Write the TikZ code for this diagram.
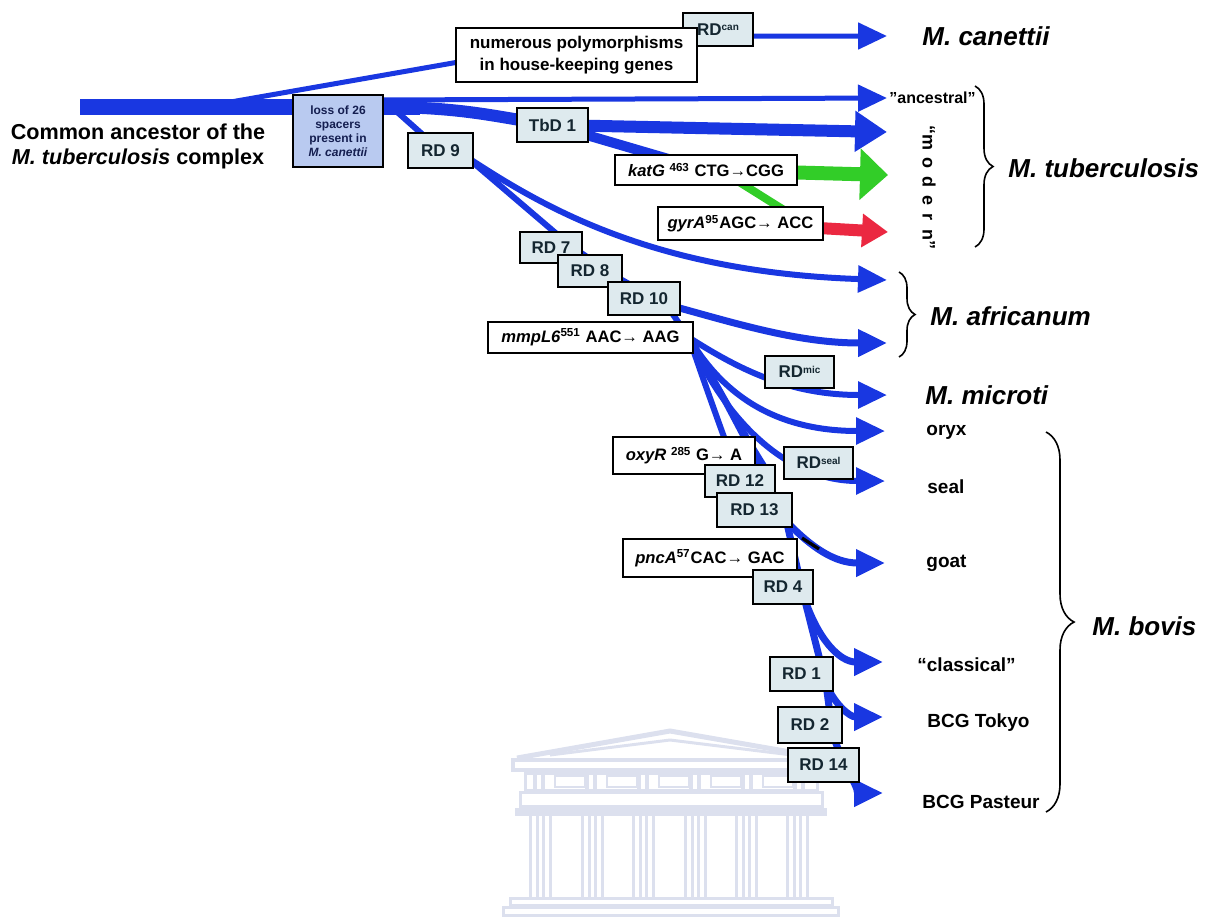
\documentclass[tikz,border=0pt]{standalone}
\usepackage{fontspec}
\setmainfont{Liberation Sans}
\usetikzlibrary{arrows.meta,decorations.pathreplacing,calc}

\definecolor{lineblue}{RGB}{25,55,225}
\definecolor{linegreen}{RGB}{50,205,40}
\definecolor{linered}{RGB}{235,40,65}
\definecolor{rdfill}{RGB}{222,234,238}
\definecolor{rdtext}{RGB}{20,38,48}
\definecolor{lossfill}{RGB}{185,202,240}
\definecolor{losstext}{RGB}{20,30,80}
\definecolor{wmark}{RGB}{220,224,238}

% small raised tag after "RD"
\newcommand{\rdtag}[1]{\raisebox{2.2pt}{\fontsize{5}{5}\selectfont #1}}

\pgfdeclarelayer{watermark}
\pgfdeclarelayer{links}
\pgfsetlayers{watermark,links,main}

\begin{document}
\begin{tikzpicture}[
  x=0.5pt, y=-0.5pt,
  rdbox/.style={draw=black, line width=1pt, fill=rdfill, text=rdtext,
    font=\bfseries\fontsize{8.5}{10}\selectfont, inner sep=0pt, minimum height=16.5pt},
  mutbox/.style={draw=black, line width=1pt, fill=white,
    font=\bfseries\fontsize{8.3}{10}\selectfont, inner sep=0pt, minimum height=16pt},
  link/.style={draw=lineblue, line width=3pt},
  tipS/.style={-{Triangle[length=14.5pt,width=13pt]}},
  tipM/.style={-{Triangle[length=16pt,width=19.5pt]}},
  tipG/.style={-{Triangle[length=14pt,width=25pt]}},
  tipR/.style={-{Triangle[length=13pt,width=16pt]}},
  taxon/.style={anchor=west, inner sep=0pt, font=\bfseries\fontsize{9.5}{11}\selectfont},
  species/.style={anchor=west, inner sep=0pt, font=\bfseries\itshape\fontsize{13}{15}\selectfont},
  bracket/.style={draw=black, line width=0.8pt, decorate, decoration={brace, amplitude=#1}},
]
\useasboundingbox (0,0) rectangle (1209,922);

% ---------- boxes ----------
\node[rdbox, minimum width=35pt, minimum height=16.5pt] (rdcan) at (718,29.5) {RD\rdtag{can}};
\node[mutbox, minimum width=120.5pt, minimum height=27pt, align=center,
      font=\bfseries\fontsize{8.5}{11}\selectfont] (numer) at (576.5,55)
      {numerous polymorphisms\\in house-keeping genes};
\node[draw=black, line width=1pt, fill=lossfill, text=losstext, minimum width=45pt,
      minimum height=36pt, inner sep=0pt, align=center,
      font=\bfseries\fontsize{6}{7}\selectfont] (loss) at (338,131)
      {loss of 26\\spacers\\present in\\\textit{M. canettii}};
\node[rdbox, minimum width=35.5pt, minimum height=17pt] (tbd1) at (552.5,125) {TbD 1};
\node[rdbox, minimum width=32.5pt, minimum height=17.5pt] (rd9) at (440.5,150.5) {RD 9};
\node[mutbox, minimum width=91pt, minimum height=15pt] (katg) at (706,170)
      {\textit{katG} \textsuperscript{463} CTG→CGG};
\node[mutbox, minimum width=82.5pt, minimum height=16.5pt] (gyra) at (740.5,223.5)
      {\textit{gyrA}\textsuperscript{95}AGC→ ACC};
\node[rdbox, minimum width=31pt, minimum height=15.5pt] (rd7) at (551,247.5) {RD 7};
\node[rdbox, minimum width=32pt, minimum height=16pt] (rd8) at (590,271) {RD 8};
\node[rdbox, minimum width=36pt, minimum height=16.5pt] (rd10) at (644,298.5) {RD 10};
\node[mutbox, minimum width=102.5pt, minimum height=15.5pt] (mmpl) at (590.5,337.5)
      {\textit{mmpL6}\textsuperscript{551} AAC→ AAG};
\node[rdbox, minimum width=34.5pt, minimum height=16pt] (rdmic) at (799.5,372) {RD\rdtag{mic}};
\node[rdbox, minimum width=34.5pt, minimum height=16pt] (rdseal) at (818.5,463) {RD\rdtag{seal}};
\node[mutbox, minimum width=71pt, minimum height=18.5pt] (oxyr) at (684,455.5)
      {\textit{oxyR} \textsuperscript{285} G→ A};
\node[rdbox, minimum width=35pt, minimum height=16pt] (rd12) at (740,481) {RD 12};
\node[rdbox, minimum width=37.5pt, minimum height=17pt] (rd13) at (754.5,510) {RD 13};
\node[mutbox, minimum width=87pt, minimum height=19pt] (pnca) at (710,558)
      {\textit{pncA}\textsuperscript{57}CAC→ GAC};
\node[rdbox, minimum width=30pt, minimum height=17pt] (rd4) at (783,587) {RD 4};
\node[rdbox, minimum width=31.5pt, minimum height=17pt] (rd1) at (801.5,674) {RD 1};
\node[rdbox, minimum width=32pt, minimum height=18pt] (rd2) at (810,725) {RD 2};
\node[rdbox, minimum width=35.5pt, minimum height=17pt] (rd14) at (823.5,765) {RD 14};

% ---------- labels ----------
\node[align=center, inner sep=0pt, font=\bfseries\fontsize{10.8}{12.5}\selectfont] (rootlabel)
      at (138,146) {Common ancestor of the\\\textit{M. tuberculosis} complex};
\node[species] (lcan) at (922,36) {M. canettii};
\node[anchor=west, inner sep=0pt, font=\bfseries\fontsize{8}{9}\selectfont] (lanc) at (889,98)
      {\symbol{"22}ancestral\symbol{"22}};
\node[rotate=-90, inner sep=0pt, font=\bfseries\fontsize{9}{10}\selectfont] (lmod) at (929,187)
      {“m\hspace{4pt}o\hspace{4pt}d\hspace{4pt}e\hspace{4pt}r\hspace{4pt}n”};
\node[species] (ltb) at (1008,168) {M. tuberculosis};
\node[species] (lafr) at (930,316) {M. africanum};
\node[species] (lmic) at (925,395) {M. microti};
\node[taxon] (loryx) at (926,432) {oryx};
\node[taxon] (lseal) at (927,487) {seal};
\node[taxon] (lgoat) at (926,563) {goat};
\node[taxon] (lclass) at (917,665) {“classical”};
\node[taxon] (ltokyo) at (927,723) {BCG Tokyo};
\node[taxon] (lpast) at (922,802) {BCG Pasteur};
\node[species] (lbovis) at (1092,626) {M. bovis};

% ---------- braces ----------
\draw[bracket=9pt] (975,86) -- (975,247);
\draw[bracket=8pt] (899,272) -- (899,357);
\draw[bracket=14pt] (1046,432) -- (1046,812);

% ---------- arrow ends ----------
\coordinate (root) at (80,107);
\coordinate (trunkend) at (420,107);
\coordinate (tcan) at (887,36);
\coordinate (tanc) at (887,98);
\coordinate (tmod) at (887,132);
\coordinate (tgreen) at (888,175);
\coordinate (tred) at (888,232);
\coordinate (tafr1) at (887,280);
\coordinate (tafr2) at (887,343);
\coordinate (tmic) at (887,395);
\coordinate (toryx) at (885,431);
\coordinate (tseal) at (885,481);
\coordinate (tgoat) at (885,563);
\coordinate (tclass) at (883,662);
\coordinate (ttokyo) at (883,717);
\coordinate (tpast) at (883,793);

% ---------- branch points ----------
\coordinate (cfork) at (225,103);
\coordinate (cin) at (470,60);
\coordinate (ancfork) at (380,100);
\coordinate (modfork) at (390,107);
\coordinate (rd9fork) at (395,110);
\coordinate (o9) at ($(rd9.east)+(-8,6)$);
\coordinate (c7) at ($(rd7.east)+(-14,-3)$);
\coordinate (c8) at ($(rd8.east)+(-10,4)$);
\coordinate (c10) at ($(rd10.east)+(-15,6)$);
\coordinate (fan) at ($(mmpl.east)+(-5,0)$);
\coordinate (k13) at ($(rd13.east)+(-8,5)$);
\coordinate (kg) at ($(rd13.south east)+(-6,-6)$);
\coordinate (k4) at ($(rd4.south east)+(-10,-8)$);
\coordinate (k1) at ($(rd1.south east)+(-8,-8)$);
\coordinate (k2) at ($(rd2.south east)+(-10,-8)$);

% ---------- connectors ----------
\begin{pgfonlayer}{links}
  % trunk and the canettii branch
  \draw[lineblue, line width=8pt] (root) -- (trunkend);
  \draw[link, line width=2.5pt, tipS] (cfork) -- (cin) -- (rdcan.center |- tcan) -- (tcan);
  % M. tuberculosis lineages
  \draw[link, line width=2.5pt, tipS] (ancfork) -- (tanc);
  \draw[link, line width=6pt, tipM] (modfork) .. controls (470,108) and (500,118) .. (tbd1.center) -- (tmod);
  \draw[link, line width=5pt] (tbd1.center) -- (katg.center);
  \draw[linegreen, line width=7pt, tipG] (katg.center) -- (tgreen);
  \draw[linegreen, line width=4pt] ($(katg.center)+(14,0)$) -- ($(gyra.center)+(65,0)$);
  \draw[linered, line width=6pt, tipR] (gyra.center) -- (tred);
  % RD9 lineage
  \draw[link] (rd9fork) -- (rd9.center);
  \draw[link, tipS] (o9) .. controls (540,205) and (650,272) .. (tafr1);
  \draw[link] (o9) -- (c7) -- (c8) -- (c10) -- (fan);
  \draw[link, line width=3.5pt, tipS] (rd10.center) .. controls (720,318) and (790,343) .. (tafr2);
  % fan after mmpL6
  \draw[link, tipS] (fan) .. controls (740,370) and (790,395) .. (tmic);
  \draw[link, tipS] (fan) .. controls (720,390) and (770,431) .. (toryx);
  \draw[link, tipS] (fan) .. controls (720,410) and (780,481) .. (tseal);
  \draw[link] (fan) .. controls (705,385) and (725,440) .. (rd12.center);
  \draw[link] (fan) .. controls (715,380) and (745,440) .. (k13);
  \draw[link] (fan) .. controls (712,375) and (738,425) .. ($(rd12.north east)+(-10,5)$);
  % M. bovis lineages
  \draw[link, line width=3.5pt] (k13) -- (k4);
  \draw[link, line width=3.5pt, tipS] (kg) .. controls (812,548) and (835,563) .. (tgoat);
  \draw[black, line width=1.6pt] (802,538) -- (819,549);
  \draw[link, line width=3.5pt, tipS] (k4) .. controls (818,640) and (840,662) .. (tclass);
  \draw[link, line width=3.5pt] (k4) -- (k1) -- (k2);
  \draw[link, line width=3.5pt, tipS] (k1) .. controls (835,705) and (850,717) .. (ttokyo);
  \draw[link, line width=3.5pt, tipS] (k2) .. controls (848,775) and (862,793) .. (tpast);
\end{pgfonlayer}

% ---------- faint temple watermark ----------
\begin{pgfonlayer}{watermark}
  \draw[wmark, line width=2.5pt, line join=miter] (517,758) -- (670,731) -- (825,758);
  \draw[wmark, line width=1.5pt] (550,755) -- (670,740) -- (792,755);
  \draw[wmark, line width=2pt] (513,760) rectangle (829,770);
  \draw[wmark, line width=1.5pt] (525,773) rectangle (817,790);
  \foreach \m in {555,607,659,711,763} {\draw[wmark, line width=1.2pt] (\m,776) rectangle ++(30,11);}
  \foreach \t in {533,541,585,593,637,645,689,697,741,749,793,801}
    {\fill[wmark] (\t,774) rectangle ++(4,15);}
  \draw[wmark, line width=1.5pt] (520,792) rectangle (822,806);
  \fill[wmark] (515,808) rectangle (827,816);
  \foreach \c in {540,592,643,695,746,797} {
    \draw[wmark, line width=1.5pt] (\c-10,816) -- (\c-10,898) (\c+10,816) -- (\c+10,898)
      (\c-3,816) -- (\c-3,898) (\c+3,816) -- (\c+3,898);
  }
  \draw[wmark, line width=1.5pt] (510,898) rectangle (832,905);
  \draw[wmark, line width=1.5pt] (503,907) rectangle (838,915);
\end{pgfonlayer}
\end{tikzpicture}
\end{document}
